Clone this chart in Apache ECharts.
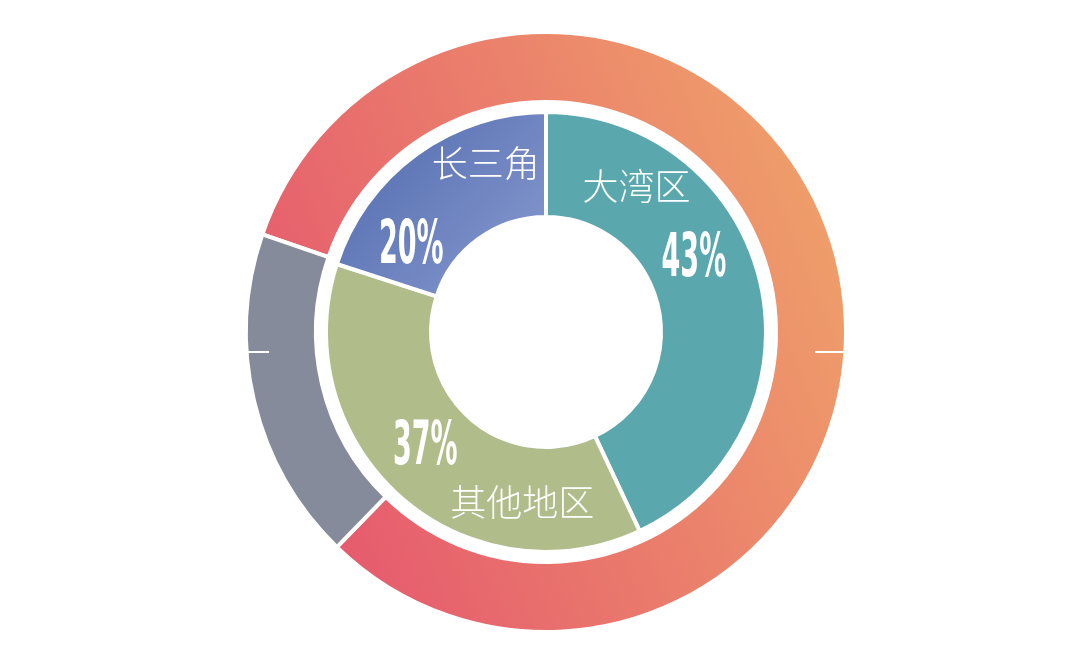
<!DOCTYPE html>
<html><head><meta charset="utf-8">
<script src="https://cdn.jsdelivr.net/npm/echarts@6/dist/echarts.min.js"></script>
<style>html,body{margin:0;padding:0;background:#fff}#c{width:1080px;height:672px}</style>
</head><body><div id="c"></div>
<script>
// ---- data ----
const regions = ['大湾区', '其他地区', '长三角'];
const shares = [43, 37, 20];
const outerNames = ['外环A', '外环B'];
const outerValues = [82, 18];

// ---- styles ----
const center = [546, 332];
const nameOffsets = [[-76, -108], [89, 42], [40, -31]];
const pctOffsets = [[-37, -34], [-16, -11], [-69, 53]];
const PCT_SCALE = 0.5;
const regionColors = [
  '#5aa8ae',
  '#b0bc8a',
  new echarts.graphic.LinearGradient(0, 0, 1, 1, [
    { offset: 0, color: '#4e69ad' },
    { offset: 1, color: '#8a9bd0' }
  ])
];
const outerColors = [
  new echarts.graphic.LinearGradient(0, 0.7, 1, 0.3, [
    { offset: 0, color: '#e5576e' },
    { offset: 1, color: '#efa06a' }
  ]),
  '#868b9b'
];

const chart = echarts.init(document.getElementById('c'), null, { renderer: 'canvas' });

const option = {
  animation: false,
  backgroundColor: '#fff',
  graphic: [
    { type: 'line', z: 100, shape: { x1: 247, y1: 352, x2: 269, y2: 352 }, style: { stroke: '#fff', lineWidth: 2 } },
    { type: 'line', z: 100, shape: { x1: 815, y1: 352, x2: 848, y2: 352 }, style: { stroke: '#fff', lineWidth: 2 } }
  ],
  series: [
    {
      type: 'pie',
      center: center,
      radius: [230, 300],
      startAngle: 161,
      clockwise: true,
      silent: true,
      label: { show: false },
      labelLine: { show: false },
      itemStyle: { borderColor: '#fff', borderWidth: 4 },
      data: outerValues.map((v, i) => ({ name: outerNames[i], value: v, itemStyle: { color: outerColors[i] } }))
    },
    {
      type: 'pie',
      center: center,
      radius: [115, 220],
      startAngle: 90,
      clockwise: true,
      silent: true,
      label: {
        show: true,
        position: 'inside',
        formatter: '{b}',
        color: '#fff',
        fontSize: 36,
        fontWeight: 200,
        fontFamily: '"Noto Sans CJK SC", sans-serif'
      },
      labelLine: { show: false },
      labelLayout: (p) => ({ dx: nameOffsets[p.dataIndex][0], dy: nameOffsets[p.dataIndex][1] }),
      itemStyle: { borderColor: '#fff', borderWidth: 4 },
      data: shares.map((v, i) => ({ name: regions[i], value: v, itemStyle: { color: regionColors[i] } }))
    },
    {
      type: 'pie',
      center: center,
      radius: [115, 220],
      startAngle: 90,
      clockwise: true,
      silent: true,
      z: 5,
      label: {
        show: true,
        position: 'inside',
        formatter: '{c}%',
        color: '#fff',
        fontSize: 60,
        fontWeight: 'bold',
        fontFamily: '"DejaVu Sans Condensed", "DejaVu Sans", sans-serif'
      },
      labelLine: { show: false },
      labelLayout: (p) => ({ dx: pctOffsets[p.dataIndex][0], dy: pctOffsets[p.dataIndex][1] }),
      itemStyle: { color: 'rgba(0,0,0,0)', borderWidth: 0 },
      data: shares.map((v, i) => ({ name: regions[i], value: v }))
    }
  ]
};
chart.setOption(option);

// narrow the percentage labels horizontally to mimic a condensed display face
function condense() {
  const zr = chart.getZr();
  let changed = false;
  const visit = (el) => {
    const t = el.getTextContent && el.getTextContent();
    if (t && t.style && /%/.test(String(t.style.text)) && t.scaleX !== PCT_SCALE) {
      const r = t.getBoundingRect();
      t.originX = r.x + r.width / 2;
      t.originY = r.y + r.height / 2;
      t.scaleX = PCT_SCALE;
      t.markRedraw();
      el.markRedraw();
      changed = true;
    }
  };
  zr.storage.getRoots().forEach((root) => {
    visit(root);
    if (root.traverse) root.traverse(visit);
  });
  if (changed) zr.refreshImmediately();
}
condense();
chart.on('finished', condense);
</script>
</body></html>
